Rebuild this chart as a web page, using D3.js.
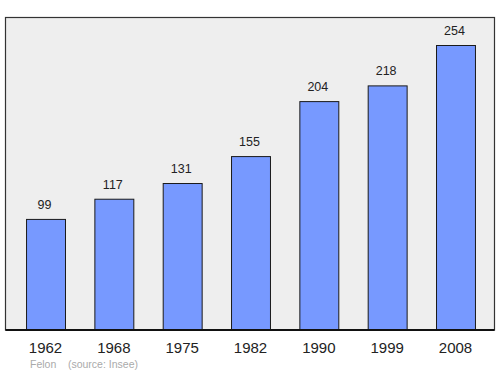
<!DOCTYPE html>
<html>
<head>
<meta charset="utf-8">
<script src="https://cdn.jsdelivr.net/npm/d3@7"></script>
<style>
  body { margin: 0; background: #fff; }
  text { font-family: "Liberation Sans", Arial, sans-serif; }
</style>
</head>
<body>
<svg id="chart"></svg>
<script>
  // Data
  var years = ['1962', '1968', '1975', '1982', '1990', '1999', '2008']
  var population = [99, 117, 131, 155, 204, 218, 254]
  var townName = 'Felon'
  var sourceNote = '(source: Insee)'

  var WIDTH = 500
  var HEIGHT = 374
  var panel = { left: 5.5, top: 17.5, right: 494.5, bottom: 330 }

  var svg = d3.select('#chart')
    .attr('width', WIDTH)
    .attr('height', HEIGHT)

  var x = d3.scaleBand()
    .domain(years)
    .range([11.35, 489.65])
    .paddingInner(0.43)
    .paddingOuter(0.215)

  var y = d3.scaleLinear()
    .domain([0, 254])
    .range([panel.bottom, 45])

  // Background panel
  svg.append('rect')
    .attr('x', panel.left)
    .attr('y', panel.top)
    .attr('width', panel.right - panel.left)
    .attr('height', panel.bottom - panel.top)
    .attr('fill', '#eeeeee')
    .attr('stroke', '#333')
    .attr('stroke-width', 1.2)

  // Bars
  svg.append('g').selectAll('rect')
    .data(population)
    .enter().append('rect')
    .attr('x', function (d, i) { return x(years[i]) + 0.5 })
    .attr('y', function (d) { return y(d) + 0.5 })
    .attr('width', x.bandwidth())
    .attr('height', function (d) { return panel.bottom - y(d) - 0.5 })
    .attr('fill', '#7799ff')
    .attr('stroke', '#1a1a1a')
    .attr('stroke-width', 1)

  // Value labels
  svg.append('g').selectAll('text')
    .data(population)
    .enter().append('text')
    .attr('x', function (d, i) { return x(years[i]) + x.bandwidth() / 2 - 1 })
    .attr('y', function (d) { return y(d) - 10 })
    .attr('text-anchor', 'middle')
    .attr('font-size', 12.5)
    .attr('fill', '#222')
    .text(function (d) { return d })

  // Baseline
  svg.append('line')
    .attr('x1', panel.left)
    .attr('x2', panel.right)
    .attr('y1', panel.bottom)
    .attr('y2', panel.bottom)
    .attr('stroke', '#111')
    .attr('stroke-width', 2)

  // Year labels
  svg.append('g').selectAll('text')
    .data(years)
    .enter().append('text')
    .attr('x', function (d) { return x(d) + x.bandwidth() / 2 })
    .attr('y', 353)
    .attr('text-anchor', 'middle')
    .attr('font-size', 15)
    .attr('fill', '#222')
    .text(function (d) { return d })

  // Source note
  svg.append('text')
    .attr('x', 30)
    .attr('y', 368)
    .attr('font-size', 10.5)
    .attr('fill', '#aaa')
    .attr('xml:space', 'preserve')
    .text(townName + '    ' + sourceNote)
</script>
</body>
</html>
